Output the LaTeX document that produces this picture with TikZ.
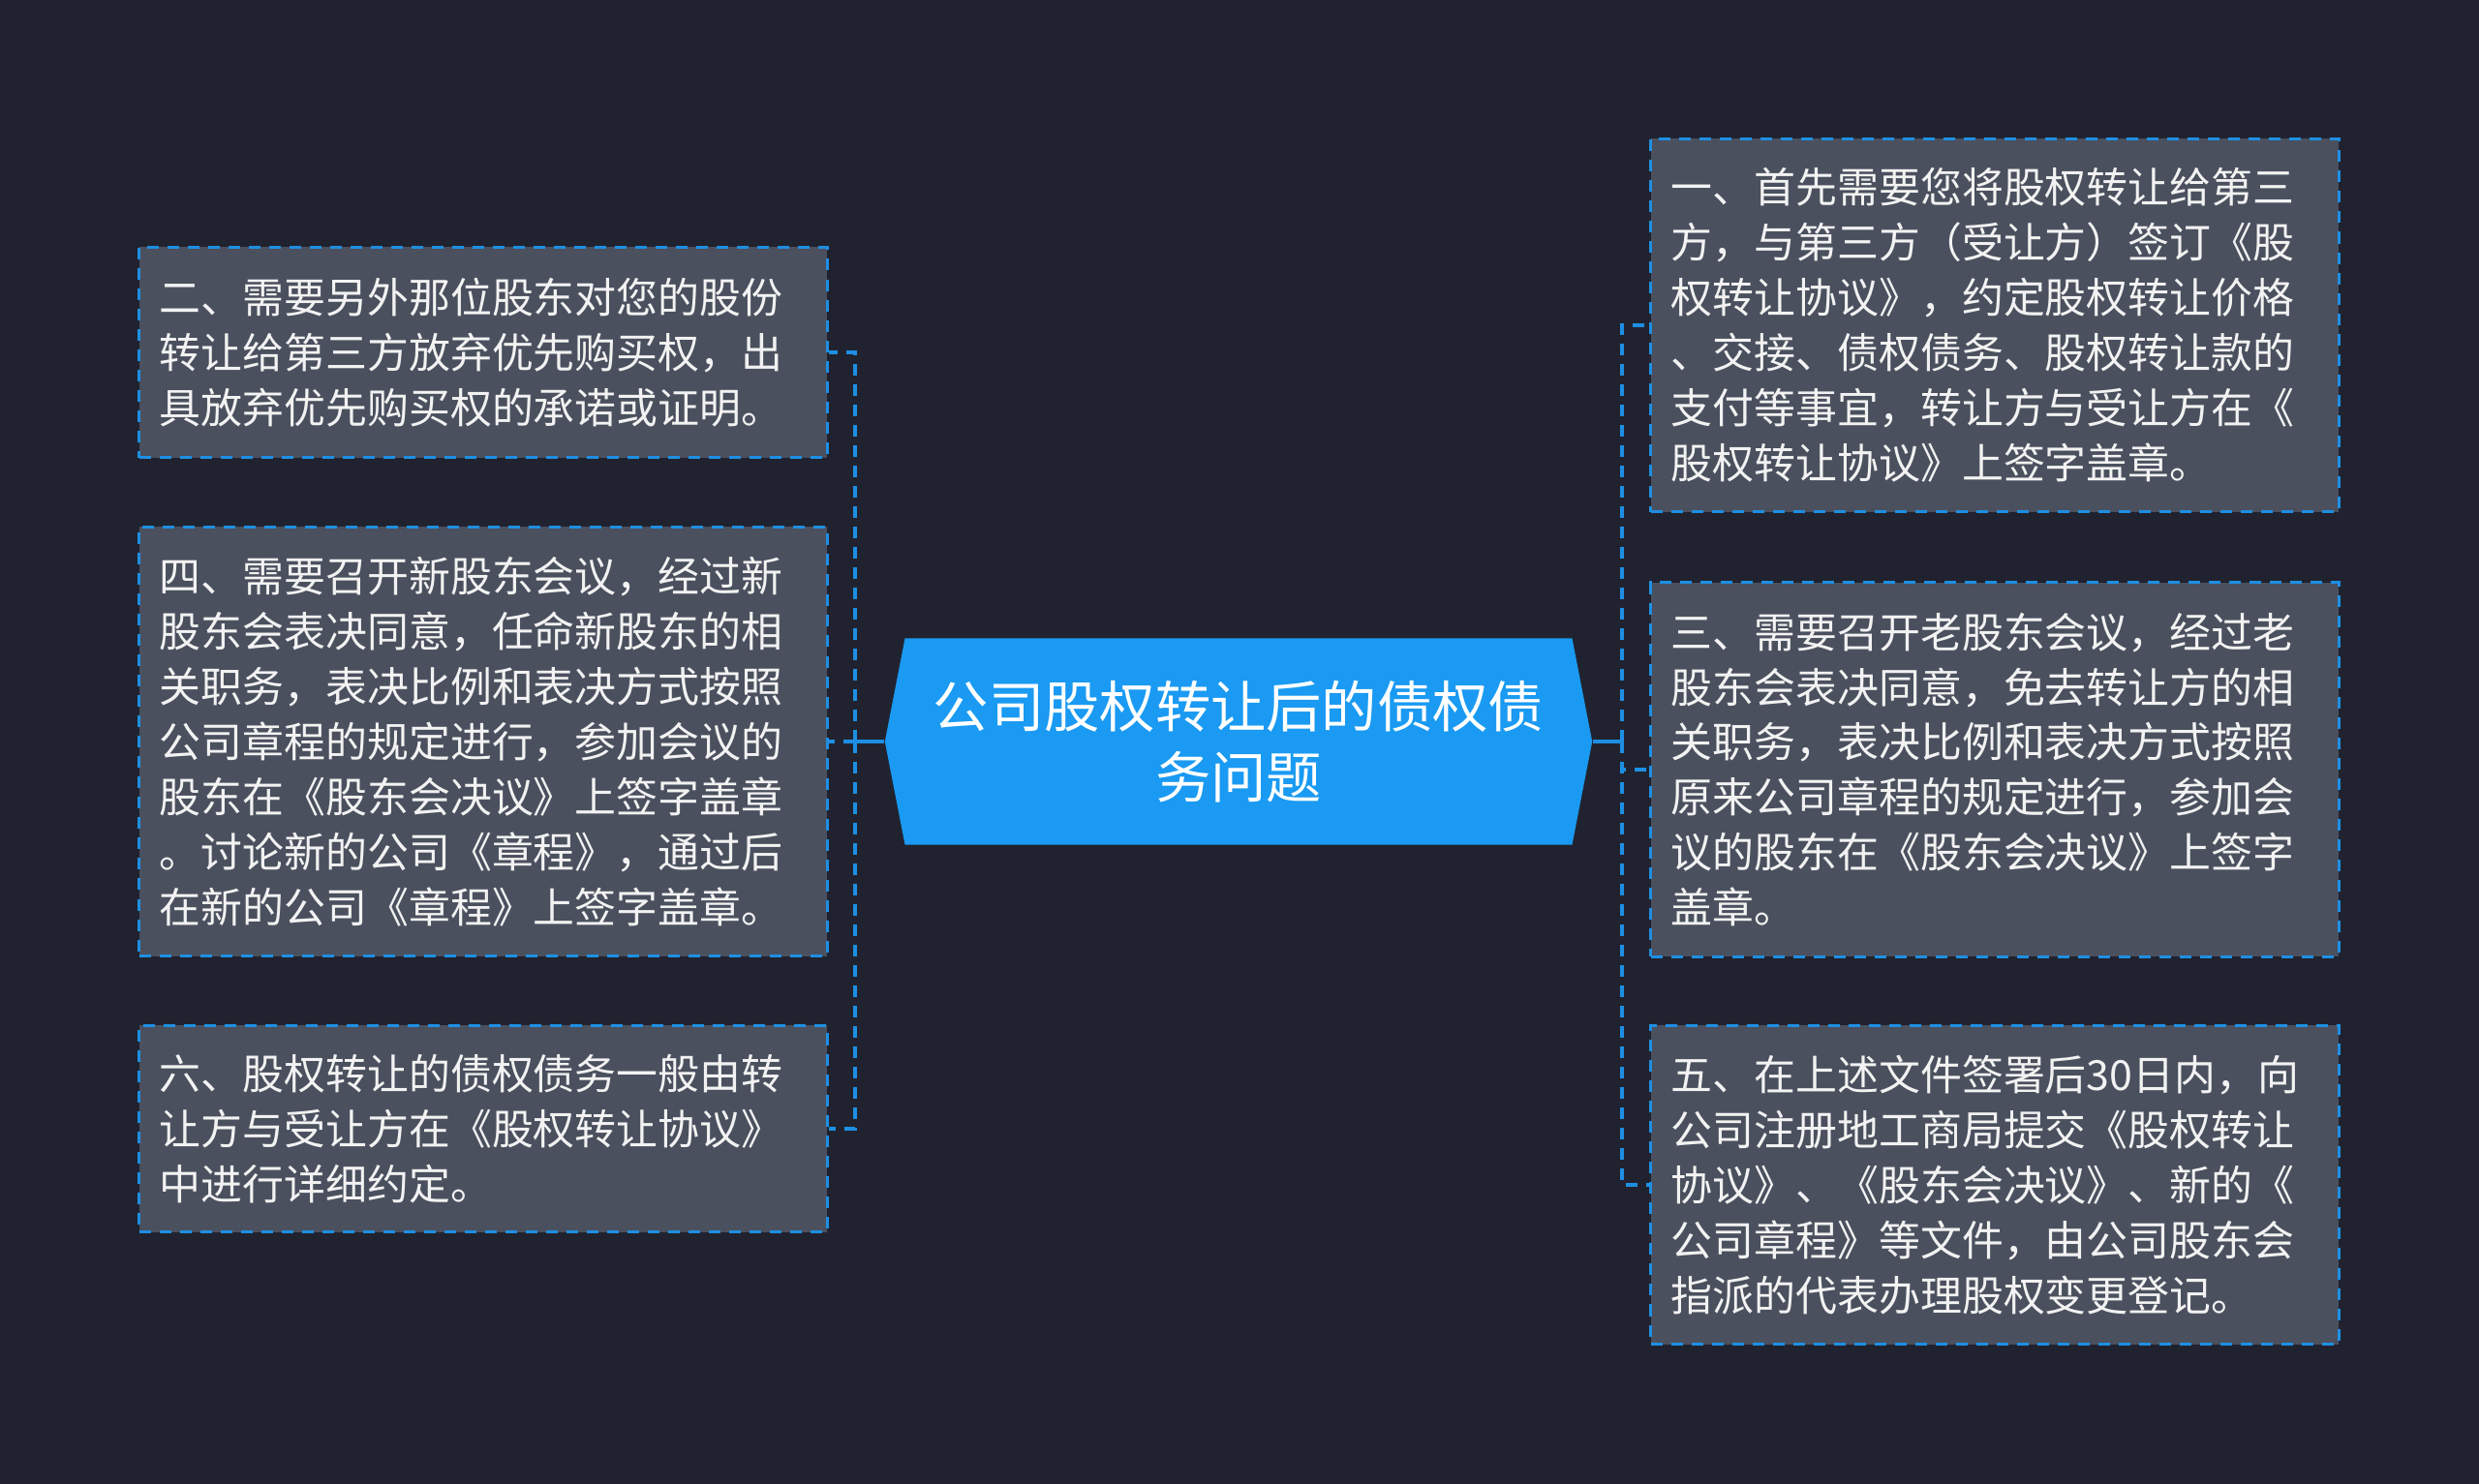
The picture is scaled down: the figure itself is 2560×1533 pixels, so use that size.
\documentclass[tikz,border=0pt]{standalone}
\usepackage{fontspec}
\setmainfont{Noto Sans CJK SC}
\usepackage{xcolor}
\usetikzlibrary{shapes.symbols, positioning, calc}

\definecolor{bgc}{HTML}{20232F}
\definecolor{boxc}{HTML}{4A505E}
\definecolor{linec}{HTML}{1E8FE3}
\definecolor{topicc}{HTML}{1A9AF2}
\definecolor{txtc}{HTML}{F2F2F2}

\begin{document}
\begin{tikzpicture}[x=0.01cm, y=-0.01cm]
        \tikzstyle{sub} = [rectangle, draw=linec, fill=boxc, line width=0.9pt, dash pattern=on 0.12cm off 0.09cm, text=txtc, align=left, text width=6.68cm, inner xsep=0.21cm, minimum width=7.1cm, font=\fontsize{12.2}{16.2}\selectfont]
        \tikzstyle{topic} = [signal, signal to=west and east, signal pointer angle=158, fill=topicc, text=white, align=center, minimum width=7.3cm, minimum height=2.13cm, font=\fontsize{16.3}{20.8}\selectfont]
        \tikzstyle{lnk} = [draw=linec, line width=1.15pt, dash pattern=on 0.12cm off 0.09cm]
        \tikzstyle{stem} = [draw=linec, line width=1.4pt]

        % background
        \fill [bgc] (0,0) rectangle (2560,1533);
        \useasboundingbox (0,0) rectangle (2560,1533);

        % central topic
        \node (main) [topic] at (1279, 766) {公司股权转让后的债权债\\务问题};

        % left branches
        \node (l1) [sub, minimum height=2.17cm] at (499, 364) {二、需要另外那位股东对您的股份\\转让给第三方放弃优先购买权，出\\具放弃优先购买权的承诺或证明。};
        \node (l2) [sub, minimum height=4.43cm] at (499, 766) {四、需要召开新股东会议，经过新\\股东会表决同意，任命新股东的相\\关职务，表决比例和表决方式按照\\公司章程的规定进行，参加会议的\\股东在《股东会决议》上签字盖章\\。讨论新的公司《章程》，通过后\\在新的公司《章程》上签字盖章。};
        \node (l3) [sub, minimum height=2.13cm] at (499, 1166) {六、股权转让的债权债务一般由转\\让方与受让方在《股权转让协议》\\中进行详细约定。};

        % right branches
        \node (r1) [sub, minimum height=3.85cm] at (2060, 336) {一、首先需要您将股权转让给第三\\方，与第三方（受让方）签订《股\\权转让协议》，约定股权转让价格\\、交接、债权债务、股权转让款的\\支付等事宜，转让方与受让方在《\\股权转让协议》上签字盖章。};
        \node (r2) [sub, minimum height=3.86cm] at (2060, 795) {三、需要召开老股东会议，经过老\\股东会表决同意，免去转让方的相\\关职务，表决比例和表决方式按照\\原来公司章程的规定进行，参加会\\议的股东在《股东会决议》上签字\\盖章。};
        \node (r3) [sub, minimum height=3.29cm] at (2060, 1224) {五、在上述文件签署后30日内，向\\公司注册地工商局提交《股权转让\\协议》、《股东会决议》、新的《\\公司章程》等文件，由公司股东会\\指派的代表办理股权变更登记。};

        % junctions
        \coordinate (jl) at ($(main.west) + (-30, 0)$);
        \coordinate (jr) at ($(main.east) + (30, 0)$);

        % connections
        \draw [stem] (main.west) -- (jl); \draw [stem] (main.east) -- (jr);
        \draw [lnk] (jl) |- (l1.east); \draw [lnk] (jl) -- (l2.east); \draw [lnk] (jl) |- (l3.east);
        \draw [lnk] (jr) |- (r1.west); \draw [lnk] (jr) |- (r2.west); \draw [lnk] (jr) |- (r3.west);
    \end{tikzpicture}
\end{document}
